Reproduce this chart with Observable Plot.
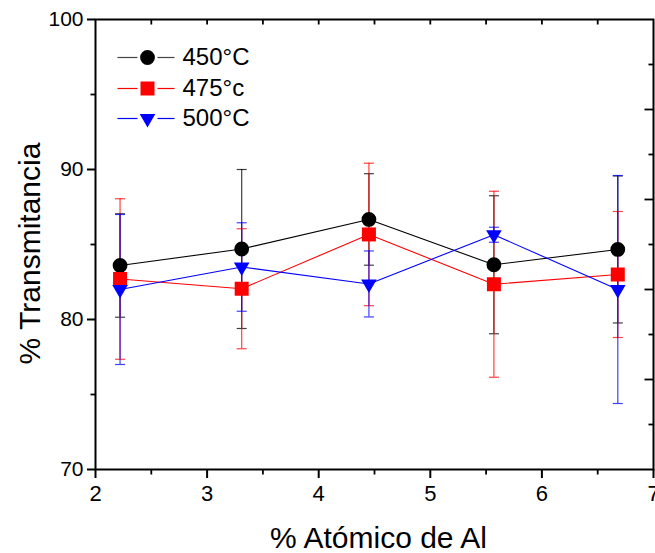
<!DOCTYPE html>
<html><head><meta charset="utf-8">
<script src="https://cdn.jsdelivr.net/npm/d3@7"></script>
<script src="https://cdn.jsdelivr.net/npm/@observablehq/plot@0.6"></script>
<style>body{margin:0;background:#fff;overflow:hidden;}</style>
</head><body><div id="chart"></div>
<script>
// ---- data ----
const xAl = [2.22, 3.31, 4.45, 5.57, 6.68];
const seriesNames = ["450°C", "475°c", "500°C"];
const t450 = [83.6, 84.7, 86.67, 83.65, 84.67];
const e450 = [3.45, 5.3, 3.05, 4.6, 4.9];
const t475 = [82.7, 82.05, 85.67, 82.35, 83.0];
const e475 = [5.35, 4.0, 4.75, 6.2, 4.2];
const t500 = [82.0, 83.5, 82.37, 85.65, 82.0];
const e500 = [5.0, 2.95, 2.2, 0.5, 7.6];
const xTicks = [2, 3, 4, 5, 6, 7];
const xMinor = [2.5, 3.5, 4.5, 5.5, 6.5];
const topTicks = [2.5, 3, 3.5, 4, 4.5, 5, 5.5, 6, 6.5];
const yTicks = [70, 80, 90, 100];
const yMinor = [75, 85, 95];
const rightMajor = [94, 88, 82, 76];
const rightMinor = [97, 91, 85, 79, 73];
const xLabel = "% Atómico de Al";
const yLabel = "% Transmitancia";

// ---- styles ----
const colors = ["black", "#ff0000", "#0000ff"];
const values = [t450, t475, t500];
const errors = [e450, e475, e500];

const seg = (a, b) => ({draw(ctx) { ctx.moveTo(a, 0); ctx.lineTo(b, 0); }});
const vseg = (a, b) => ({draw(ctx) { ctx.moveTo(0, a); ctx.lineTo(0, b); }});
const circleSym = {draw(ctx) { ctx.moveTo(7.4, 0); ctx.arc(0, 0, 7.4, 0, 2 * Math.PI); }};
const squareSym = {draw(ctx) { ctx.rect(-7, -7, 14, 14); }};
const triDownSym = {draw(ctx) { ctx.moveTo(-7.8, -4.5); ctx.lineTo(7.8, -4.5); ctx.lineTo(0, 9); ctx.closePath(); }};
const symbols = [circleSym, squareSym, triDownSym];

const rows = seriesNames.map((s, i) => xAl.map((x, j) => ({
  series: s, x, y: values[i][j], lo: values[i][j] - errors[i][j], hi: values[i][j] + errors[i][j]
})));

const marks = [];
// error bars
rows.forEach((r, i) => {
  marks.push(Plot.ruleX(r, {x: "x", y1: "lo", y2: "hi", stroke: colors[i], strokeWidth: 1.2, strokeOpacity: 0.75}));
  marks.push(Plot.dot(r, {x: "x", y: "hi", symbol: seg(-5, 5), fill: "none", stroke: colors[i], strokeWidth: 1.2, strokeOpacity: 0.75}));
  marks.push(Plot.dot(r, {x: "x", y: "lo", symbol: seg(-5, 5), fill: "none", stroke: colors[i], strokeWidth: 1.2, strokeOpacity: 0.75}));
});
// lines
rows.forEach((r, i) => {
  marks.push(Plot.line(r, {x: "x", y: "y", stroke: colors[i], strokeWidth: 1.1}));
});
// markers
rows.forEach((r, i) => {
  marks.push(Plot.dot(r, {x: "x", y: "y", symbol: symbols[i], fill: colors[i], stroke: "none"}));
});
// legend
const legendDy = [38, 69, 99];
seriesNames.forEach((s, i) => {
  marks.push(Plot.dot([s], {frameAnchor: "top-left", dx: 52, dy: legendDy[i], symbol: seg(-30, -10), fill: "none", stroke: i === 0 ? "#444" : colors[i], strokeWidth: 1.2}));
  marks.push(Plot.dot([s], {frameAnchor: "top-left", dx: 52, dy: legendDy[i], symbol: seg(10, 27), fill: "none", stroke: i === 0 ? "#444" : colors[i], strokeWidth: 1.2}));
  marks.push(Plot.dot([s], {frameAnchor: "top-left", dx: 52, dy: legendDy[i], symbol: symbols[i], fill: colors[i], stroke: "none"}));
  marks.push(Plot.text([s], {frameAnchor: "top-left", dx: 87, dy: legendDy[i], text: d => d, textAnchor: "start", lineAnchor: "middle", fontSize: 24, fill: "black"}));
});
// axes
marks.push(Plot.frame({stroke: "black", strokeWidth: 2}));
marks.push(Plot.axisY(yTicks, {anchor: "left", tickSize: 8, tickPadding: 4, fontSize: 21, strokeWidth: 2, label: null}));
marks.push(Plot.dot(yMinor, {y: d => d, frameAnchor: "left", symbol: seg(0, -5), fill: "none", stroke: "black", strokeWidth: 1.8}));
marks.push(Plot.axisX(xTicks, {anchor: "bottom", tickSize: 9, tickPadding: 7, fontSize: 22, strokeWidth: 2, label: null}));
marks.push(Plot.dot(xMinor, {x: d => d, frameAnchor: "bottom", symbol: vseg(0, 5), fill: "none", stroke: "black", strokeWidth: 1.8}));
marks.push(Plot.dot(topTicks, {x: d => d, frameAnchor: "top", symbol: vseg(0, 5), fill: "none", stroke: "black", strokeWidth: 1.8}));
marks.push(Plot.dot(rightMajor, {y: d => d, frameAnchor: "right", symbol: seg(0, -9), fill: "none", stroke: "black", strokeWidth: 1.8}));
marks.push(Plot.dot(rightMinor, {y: d => d, frameAnchor: "right", symbol: seg(0, -5), fill: "none", stroke: "black", strokeWidth: 1.8}));
// axis titles
marks.push(Plot.text([xLabel], {frameAnchor: "bottom", dx: 4, dy: 69, text: d => d, textAnchor: "middle", lineAnchor: "middle", fontSize: 30, fill: "black"}));
marks.push(Plot.text([yLabel], {frameAnchor: "left", dx: -65, dy: 9, rotate: -90, text: d => d, textAnchor: "middle", lineAnchor: "middle", fontSize: 30, fill: "black"}));

const chart = Plot.plot({
  width: 655, height: 553,
  marginLeft: 95, marginRight: 2, marginTop: 19, marginBottom: 84,
  x: {domain: [2, 7], axis: null},
  y: {domain: [70, 100], axis: null},
  style: {fontFamily: "'Liberation Sans', Arial, sans-serif", color: "black", background: "white", overflow: "visible"},
  marks
});
document.getElementById("chart").appendChild(chart);
</script>
</body></html>
